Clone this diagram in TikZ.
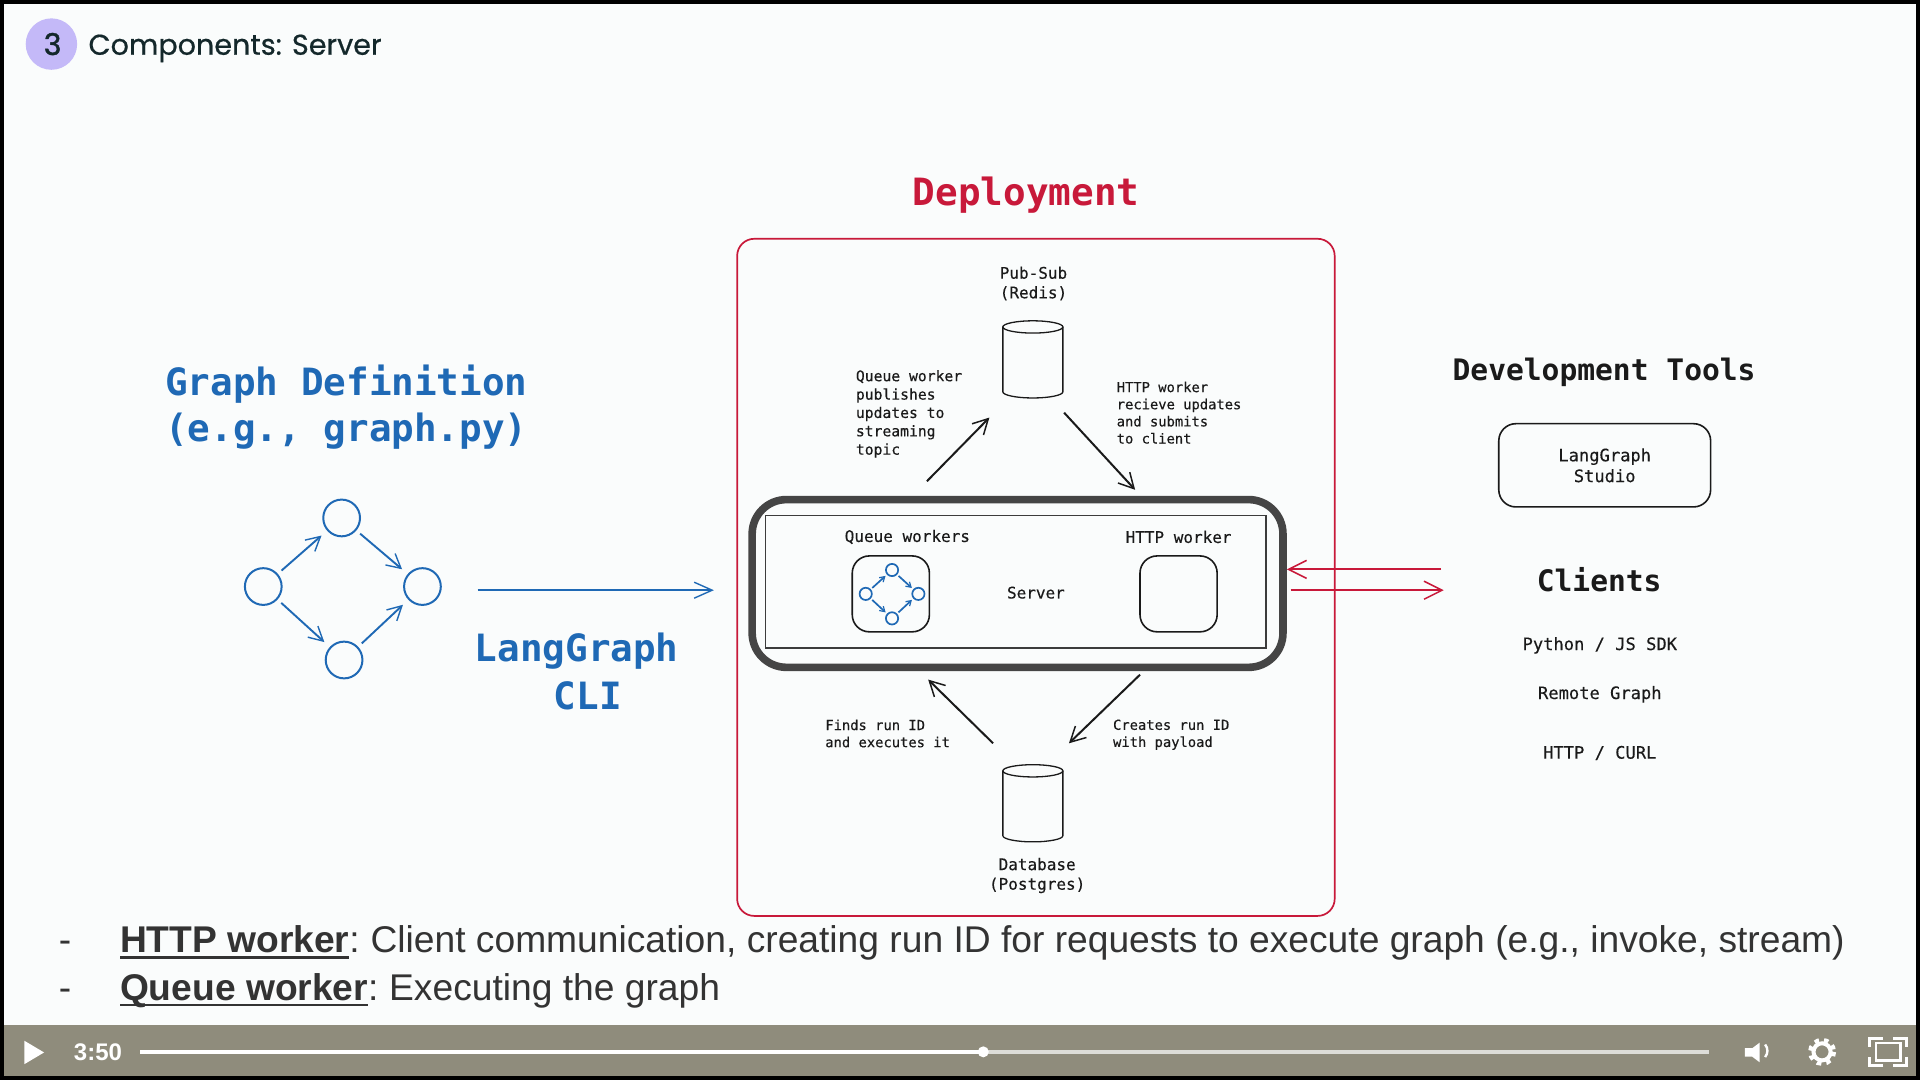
\documentclass[tikz,border=0pt]{standalone}
\usepackage{fontspec}
\setmainfont{Liberation Sans}
\newfontfamily\monof[FakeBold=0.3]{DejaVu Sans Mono}
\newfontfamily\monobig{DejaVu Sans Mono}
\newfontfamily\titlef[FakeBold=0.6]{Poppins}
\newfontfamily\numf[FakeBold=1.4]{Poppins}
\usetikzlibrary{arrows.meta}
\def\uu{0.61224pt}
\definecolor{bgc}{HTML}{FAFCFC}
\definecolor{barc}{HTML}{8F8C7C}
\definecolor{redc}{HTML}{C8193A}
\definecolor{bluec}{HTML}{1F69B5}
\definecolor{inkc}{HTML}{1A1A1A}
\definecolor{purc}{HTML}{C4B9F8}
\definecolor{thickc}{HTML}{454545}
\definecolor{bodyc}{HTML}{333333}
\definecolor{titc}{HTML}{14282B}
\newcommand\mkul[1]{\setbox0\hbox{\textbf{#1}}\rlap{\rule[-3pt]{\wd0}{1.4pt}}\box0}
\newcommand\cylbody[1]{%
  \draw[cylline] (#1.north) ++(0,5) ellipse [x radius=24.5,y radius=5];
  \draw[cylline] (#1.north west) ++(0,5) -- ++(0,53) arc [start angle=180,end angle=0,x radius=24.5,y radius=5] -- ++(0,-53);
}
\tikzset{
  txt/.style={inner sep=0pt,outer sep=0pt,font=\monof\fontsize{8}{9.8}\selectfont,text=inkc},
  small/.style={inner sep=0pt,outer sep=0pt,align=left,text=inkc},
  big/.style={inner sep=0pt,outer sep=0pt,font=\monobig\bfseries\fontsize{18.8}{23.3}\selectfont},
  sub/.style={inner sep=0pt,outer sep=0pt,font=\monobig\bfseries\fontsize{14.8}{18}\selectfont,text=inkc},
  client/.style={inner sep=0pt,outer sep=0pt,font=\monof\fontsize{8.55}{10.4}\selectfont,text=inkc},
  body/.style={inner sep=0pt,outer sep=0pt,font=\fontsize{18.6}{23}\selectfont,text=bodyc,anchor=base west},
  ink/.style={draw=inkc,line width=0.8pt},
  barb/.style={-{Straight Barb[length=7.5pt,width=8pt,line width=.75pt]},line width=1pt},
  cylline/.style={draw=inkc,line width=.65pt},
  cylbox/.style={minimum width=49*\uu,minimum height=63*\uu,inner sep=0pt,outer sep=0pt},
  bignode/.style={circle,draw=bluec,line width=1pt,minimum size=30*\uu,inner sep=0pt},
  mininode/.style={circle,draw=bluec,line width=.85pt,minimum size=10*\uu,inner sep=0pt},
  bigedge/.style={draw=bluec,-{Straight Barb[length=7pt,width=7.5pt,line width=.7pt]},line width=.95pt,shorten <=4*\uu,shorten >=6*\uu},
  miniedge/.style={draw=bluec,-{Straight Barb[length=2.4pt,width=3pt,line width=.6pt]},line width=.85pt,shorten <=1.5*\uu,shorten >=1.5*\uu},
  redarrow/.style={draw=redc,-{Straight Barb[length=9pt,width=9pt,line width=.75pt]},line width=1pt}
}
\begin{document}
\begin{tikzpicture}[x=0.61224pt,y=-0.61224pt]
\useasboundingbox (0,0) rectangle (1568,882);
% screen
\fill[black] (0,0) rectangle (1568,882);
\fill[bgc] (3,3) rectangle (1565,840);
\fill[barc] (3,837) rectangle (1565,879);
% header
\node[circle,fill=purc,minimum size=42*\uu,inner sep=0pt] (badge) at (42,36) {};
\node[inner sep=0pt,text=titc,font=\numf\fontsize{15}{18}\selectfont] (badgenum) at (43,36) {3};
\node[inner sep=0pt,anchor=west,text=titc,font=\titlef\fontsize{14.3}{18}\selectfont] (title) at (72,39.5) {Components: Server};
% left
\node[big,text=bluec,align=left,anchor=west] (graphdef) at (135,332.5) {Graph Definition\\(e.g., graph.py)};
\node[bignode] (g1) at (215,479) {};
\node[bignode] (g2) at (279,423) {};
\node[bignode] (g3) at (345,479) {};
\node[bignode] (g4) at (281,539) {};
\draw[bigedge] (g1) -- (g2);
\draw[bigedge] (g2) -- (g3);
\draw[bigedge] (g1) -- (g4);
\draw[bigedge] (g4) -- (g3);
\coordinate (cliStart) at (390,482);
\coordinate (cliEnd) at (583,482);
\draw[draw=bluec,-{Straight Barb[length=9pt,width=8pt,line width=.7pt]},line width=.9pt] (cliStart) -- (cliEnd);
\node[big,text=bluec] (lg) at (471,532) {LangGraph};
\node[big,text=bluec] (cli) at (480,568) {CLI};
% deployment
\node[big,text=redc] (deptitle) at (838,159) {Deployment};
\node[draw=redc,line width=.85pt,rounded corners=14*\uu,minimum width=488*\uu,minimum height=553*\uu,inner sep=0pt] (deploy) at (846,471.5) {};
\node[txt,align=center] (redislabel) at (844,231.5) {Pub-Sub\\(Redis)};
\node[cylbox] (redis) at (843.5,293.5) {};
\cylbody{redis}
\node[small,font=\monof\fontsize{7.35}{9.18}\selectfont,anchor=west] (qpub) at (699,338) {Queue worker\\publishes\\updates to\\streaming\\topic};
\node[small,font=\monof\fontsize{6.9}{8.57}\selectfont,anchor=west] (hrecv) at (912,337) {HTTP worker\\recieve updates\\and submits\\to client};
\coordinate (a1s) at (757,393); \coordinate (a1e) at (808,341);
\coordinate (a2s) at (869,337); \coordinate (a2e) at (927,400);
\draw[barb,draw=inkc] (a1s) -- (a1e);
\draw[barb,draw=inkc] (a2s) -- (a2e);
% server
\node[draw=thickc,line width=3.8pt,rounded corners=28*\uu,minimum width=433.5*\uu,minimum height=137*\uu,inner sep=0pt] (server) at (831,476.5) {};
\node[draw=inkc!85,line width=.75pt,minimum width=409*\uu,minimum height=108*\uu,inner sep=0pt] (inner) at (829.5,475) {};
\node[txt] (qwlabel) at (741,438.5) {Queue workers};
\node[txt] (hwlabel) at (962.5,438.5) {HTTP worker};
\node[txt] (serverlabel) at (846,484) {Server};
\node[ink,rounded corners=14*\uu,minimum width=63*\uu,minimum height=62*\uu,inner sep=0pt] (qbox) at (727.5,485) {};
\node[ink,rounded corners=14*\uu,minimum width=63*\uu,minimum height=62*\uu,inner sep=0pt] (hbox) at (962.5,485) {};
\node[mininode] (m1) at (707,485) {};
\node[mininode] (m2) at (728.5,465.5) {};
\node[mininode] (m3) at (750,485) {};
\node[mininode] (m4) at (728.5,505) {};
\draw[miniedge] (m1) -- (m2);
\draw[miniedge] (m2) -- (m3);
\draw[miniedge] (m1) -- (m4);
\draw[miniedge] (m4) -- (m3);
% lower
\coordinate (a3s) at (811,607); \coordinate (a3e) at (758,555);
\coordinate (a4s) at (931,551); \coordinate (a4e) at (873,607);
\draw[barb,draw=inkc] (a3s) -- (a3e);
\draw[barb,draw=inkc] (a4s) -- (a4e);
\node[small,font=\monof\fontsize{6.9}{8.57}\selectfont,anchor=west] (finds) at (674,599) {Finds run ID\\and executes it};
\node[small,font=\monof\fontsize{6.9}{8.57}\selectfont,anchor=west] (creates) at (909,600) {Creates run ID\\with payload};
\node[cylbox] (db) at (843.5,656) {};
\cylbody{db}
\node[txt,align=center] (dblabel) at (847,715) {Database\\(Postgres)};
% right
\node[sub] (devtools) at (1310,304) {Development Tools};
\node[ink,rounded corners=14*\uu,minimum width=173*\uu,minimum height=68*\uu,inner sep=0pt] (studio) at (1310.5,380) {};
\node[client,align=center] (studiolabel) at (1310.5,380) {LangGraph\\Studio};
\node[sub] (clients) at (1306,473) {Clients};
\node[client] (sdk) at (1306.5,527) {Python / JS SDK};
\node[client] (remote) at (1306.5,567) {Remote Graph};
\node[client] (curl) at (1306.5,615) {HTTP / CURL};
\coordinate (r1s) at (1177,465); \coordinate (r1e) at (1051,465);
\coordinate (r2s) at (1054,482); \coordinate (r2e) at (1179,482);
\draw[redarrow] (r1s) -- (r1e);
\draw[redarrow] (r2s) -- (r2e);
% bullets
\node[body] (d1) at (48,778) {-};
\node[body] (d2) at (48,817) {-};
\node[body] (b1) at (98,778) {\mkul{HTTP worker}:\kern-1.5pt{} Client communication, creating run ID for requests to execute graph (e.g., invoke, stream)};
\node[body] (b2) at (98,817) {\mkul{Queue worker}:\kern-1.5pt{} Executing the graph};
% player bar
\fill[white] (20,850) -- (36,859.5) -- (20,869) -- cycle;
\node[inner sep=0pt,text=white,font=\fontsize{12}{14}\selectfont\bfseries] (time) at (80,859.5) {3:50};
\fill[white!70!barc] (114,857.5) rectangle (1396,860.5);
\fill[white] (114,857.5) rectangle (803,860.5);
\fill[white] (803,859) circle (4.5);
\fill[white] (1425,856) -- (1431,856) -- (1437,851.5) -- (1437,867.5) -- (1431,863) -- (1425,863) -- cycle;
\draw[white,line width=1.2pt] (1441.5,853) arc (-40:40:8);
\draw[white,line width=2pt] (1488,859) circle (7);
\draw[white,line width=2.4pt,dash pattern=on 2.2pt off 2.5pt] (1488,859) circle (9.5);
\draw[white,line width=1.4pt] (1527,855) -- (1527,848) -- (1538,848);
\draw[white,line width=1.4pt] (1546,848) -- (1557,848) -- (1557,855);
\draw[white,line width=1.4pt] (1557,863) -- (1557,870) -- (1546,870);
\draw[white,line width=1.4pt] (1538,870) -- (1527,870) -- (1527,863);
\draw[white,line width=1.2pt] (1532,852) rectangle (1552,866);
\end{tikzpicture}
\end{document}
